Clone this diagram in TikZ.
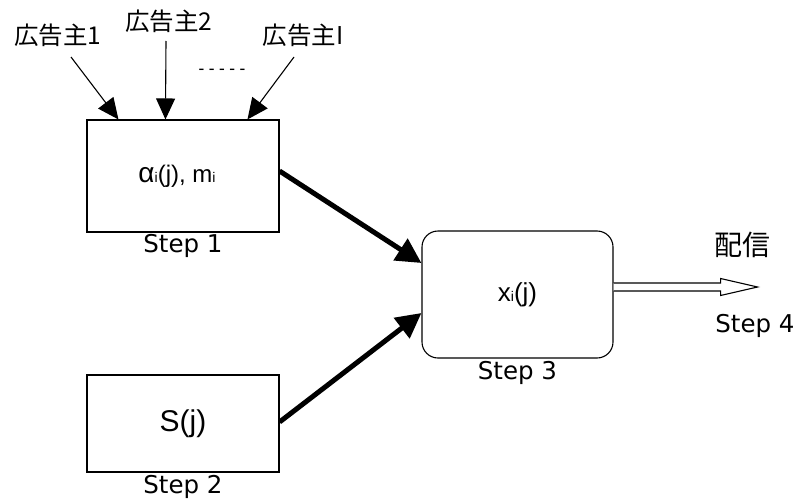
\documentclass[tikz,border=0pt]{standalone}
\usepackage{fontspec}
\setmainfont{Liberation Sans}
\newfontfamily\jpfont{Noto Sans CJK JP}
\newfontfamily\lblfont{DejaVu Sans}
\newfontfamily\monofont{DejaVu Sans Mono}
\usetikzlibrary{arrows.meta}

% small subscript index set on the baseline
\newcommand{\idx}[1]{{\fontsize{14}{14}\selectfont #1}}

\begin{document}
\begin{tikzpicture}[x=1pt,y=-1pt,
  box/.style={draw, line width=1.1pt, inner sep=0pt, align=center},
  steplbl/.style={font=\lblfont\fontsize{24.5}{25}\selectfont, inner sep=0pt, anchor=north},
  adlbl/.style={font=\jpfont\fontsize{24.5}{26}\selectfont, inner sep=0pt},
  thin/.style={line width=1.1pt, -{Triangle[length=21pt,width=19pt]}},
  thick/.style={line width=5pt, -{Triangle[length=25pt,width=25pt]}}]
\useasboundingbox (0,0) rectangle (799,503);

% three processing stages
\node[box, minimum width=192pt, minimum height=112pt] (s1) at (183,176) {};
\node[inner sep=0pt, font=\fontsize{24}{25}\selectfont] (t1) at ([xshift=-6pt]s1.center)
      {{\fontsize{28}{28}\selectfont α}\idx{i}(j), m\idx{i}};
\node[box, minimum width=192pt, minimum height=97pt,
      font=\fontsize{30}{31}\selectfont] (s2) at (183,423.5) {S(j)};
\node[box, rounded corners=16pt, minimum width=191pt, minimum height=127pt,
      font=\fontsize{26}{27}\selectfont] (s3) at (517.5,294.5) {x\idx{i}(j)};

% stage labels
\node[steplbl] (l1) at ([yshift=-2pt]s1.south) {Step 1};
\node[steplbl] (l2) at ([yshift=-3pt]s2.south) {Step 2};
\node[steplbl] (l3) at ([yshift=-3pt]s3.south) {Step 3};
\node[steplbl] (l4) at (755,314) {Step 4};

% advertisers feeding stage 1
\node[adlbl] (a1) at (58,35) {広告主1};
\node[adlbl] (a2) at (169,21) {広告主2};
\node[adlbl] (a3) at (303,35) {広告主I};
\node[font=\monofont\fontsize{17}{17}\selectfont, inner sep=0pt] (dots) at (222,72) {-----};

\coordinate (a1e) at (71,57);
\coordinate (a2e) at (166,41);
\coordinate (a3e) at (294,57);
\draw[thin] (a1e) -- ([xshift=32pt]s1.north west);
\draw[thin] (a2e) -- ([xshift=79pt]s1.north west);
\draw[thin] (a3e) -- ([xshift=161pt]s1.north west);

% stages 1 and 2 feed stage 3
\draw[thick] ([yshift=5pt]s1.east) -- ([yshift=31.5pt]s3.west);
\draw[thick] ([yshift=1.5pt]s2.east) -- ([yshift=-18.5pt]s3.west);

% hollow output arrow
\coordinate (out) at ([yshift=7.5pt]s3.east);
\draw[line width=1.1pt, fill=white, line join=miter]
  ([yshift=4pt]out) -- ++(107,0) -- ++(0,-4.5) -- ++(37,8.5)
  -- ++(-37,8.5) -- ++(0,-4.5) -- ++(-107,0);
\node[adlbl, font=\jpfont\fontsize{28}{30}\selectfont] (deliv) at (742,245) {配信};
\end{tikzpicture}
\end{document}
